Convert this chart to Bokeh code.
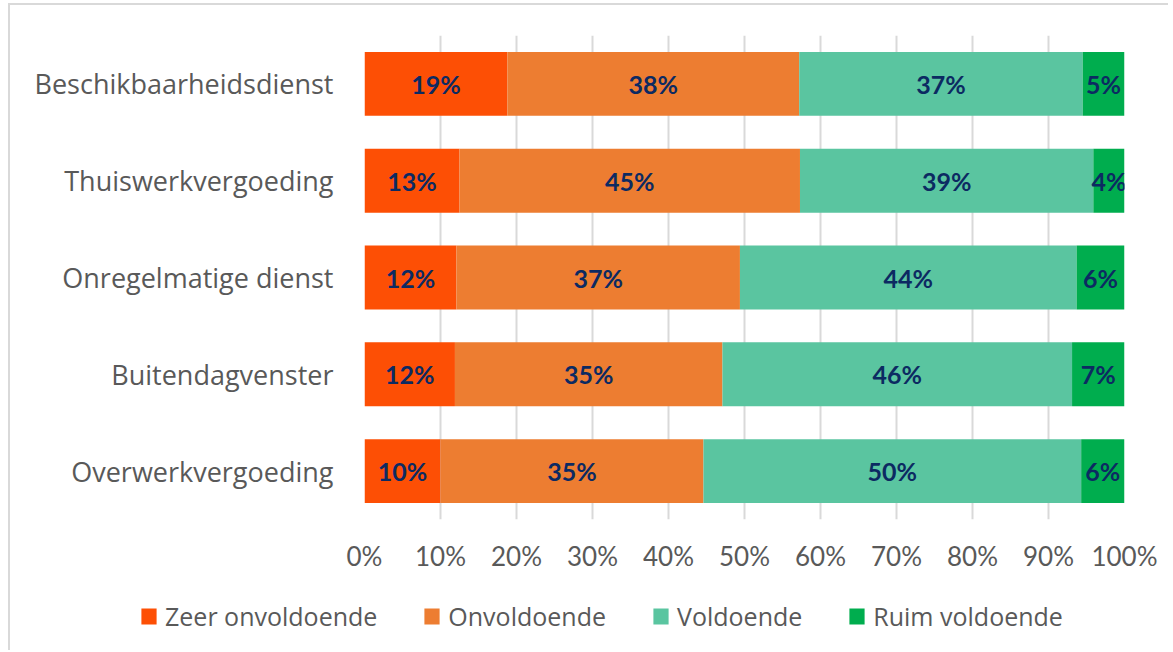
from bokeh.plotting import figure
from bokeh.layouts import column
from bokeh.models import (ColumnDataSource, FactorRange, Range1d, FixedTicker,
                          Legend, LegendItem)
from bokeh.core.properties import value
from bokeh.embed import file_html
from bokeh.resources import INLINE

categories = ["Beschikbaarheidsdienst", "Thuiswerkvergoeding", "Onregelmatige dienst",
              "Buitendagvenster", "Overwerkvergoeding"]
series_names = ["Zeer onvoldoende", "Onvoldoende", "Voldoende", "Ruim voldoende"]
zeer_onvoldoende = [18.8, 12.5, 12.1, 11.9, 10.0]
onvoldoende = [38.4, 44.8, 37.3, 35.2, 34.6]
voldoende = [37.3, 38.6, 44.3, 46.0, 49.7]
ruim_voldoende = [5.5, 4.1, 6.3, 6.9, 5.7]
label_texts = [
    ["19%", "13%", "12%", "12%", "10%"],
    ["38%", "45%", "37%", "35%", "35%"],
    ["37%", "39%", "44%", "46%", "50%"],
    ["5%", "4%", "6%", "7%", "6%"],
]
tick_values = [0.0, 0.1, 0.2, 0.3, 0.4, 0.5, 0.6, 0.7, 0.8, 0.9, 1.0]
tick_labels = ["0%", "10%", "20%", "30%", "40%", "50%", "60%", "70%", "80%", "90%", "100%"]

colors = ["#FD4F05", "#ED7D31", "#5AC5A0", "#00AD4E"]
label_color = "#0C2A62"
text_gray = "#595959"
border_gray = "#D9D9D9"
FONT = "Lato"
TEXT_FONT = "Open Sans"

series = [zeer_onvoldoende, onvoldoende, voldoende, ruim_voldoende]

p = figure(width=1160, height=590, output_backend="svg", toolbar_location=None,
           y_range=FactorRange(factors=list(reversed(categories))),
           x_range=Range1d(0, 1),
           min_border_left=354, min_border_right=46, min_border_top=30, min_border_bottom=76)
p.styles = {"margin-left": "8px", "margin-top": "3px",
            "border-left": f"2px solid {border_gray}", "border-top": f"2px solid {border_gray}"}
p.outline_line_color = None
p.background_fill_color = "white"
p.border_fill_color = "white"

# grid
p.ygrid.grid_line_color = None
p.xgrid.grid_line_color = border_gray
p.xgrid.grid_line_width = 2
p.xgrid.ticker = FixedTicker(ticks=tick_values)

# axes
p.xaxis.ticker = FixedTicker(ticks=tick_values)
p.xaxis.major_label_overrides = {v: l for v, l in zip(tick_values, tick_labels)}
p.xaxis.axis_line_color = None
p.xaxis.major_tick_line_color = None
p.xaxis.minor_tick_line_color = None
p.xaxis.major_tick_out = 0
p.xaxis.major_tick_in = 0
p.xaxis.major_label_standoff = 20
p.xaxis.major_label_text_font = FONT
p.xaxis.major_label_text_font_size = "26px"
p.xaxis.major_label_text_color = text_gray

p.yaxis.axis_line_color = None
p.yaxis.major_tick_line_color = None
p.yaxis.minor_tick_line_color = None
p.yaxis.major_tick_out = 0
p.yaxis.major_tick_in = 0
p.yaxis.major_label_standoff = 31
p.yaxis.major_label_text_font = TEXT_FONT
p.yaxis.major_label_text_font_size = "27px"
p.yaxis.major_label_text_color = text_gray

left = [0.0] * len(categories)
for name, vals, col, texts in zip(series_names, series, colors, label_texts):
    right = [l + v / 100.0 for l, v in zip(left, vals)]
    mid = [(l + r) / 2 for l, r in zip(left, right)]
    src = ColumnDataSource(dict(cat=categories, left=left, right=right, mid=mid, txt=texts))
    p.hbar(y="cat", left="left", right="right", height=0.66, source=src,
           fill_color=col, line_color=None)
    p.text(x="mid", y="cat", text="txt", source=src, text_align="center",
           text_baseline="middle", text_font=value(FONT), text_font_style="bold",
           text_font_size="25px", text_color=label_color)
    left = right

# legend strip (separate small figure so the legend can sit left of the bars)
lg = figure(width=1160, height=57, output_backend="svg", toolbar_location=None,
            x_range=Range1d(0, 1), y_range=Range1d(0, 1),
            min_border_left=0, min_border_right=0, min_border_top=0, min_border_bottom=0)
lg.frame_align = False
lg.styles = {"margin-left": "8px", "border-left": f"2px solid {border_gray}"}
lg.axis.visible = False
lg.grid.visible = False
lg.outline_line_color = None
lg.background_fill_color = "white"
lg.border_fill_color = "white"
items = []
nan = float("nan")
for name, col in zip(series_names, colors):
    dummy = ColumnDataSource(dict(y=[nan], left=[nan], right=[nan]))
    r = lg.hbar(y="y", left="left", right="right", height=0.5, source=dummy,
                fill_color=col, line_color=None)
    items.append(LegendItem(label=name, renderers=[r]))
legend = Legend(items=items, orientation="horizontal", location=(129, 17),
                padding=0, margin=0, spacing=45, glyph_width=19, glyph_height=20,
                label_standoff=7, label_text_font=TEXT_FONT, label_text_font_size="25px",
                label_text_color=text_gray, border_line_color=None,
                background_fill_alpha=0)
lg.add_layout(legend, "center")

layout = column(p, lg, spacing=0)
open("out.html", "w").write(file_html(layout, INLINE))
